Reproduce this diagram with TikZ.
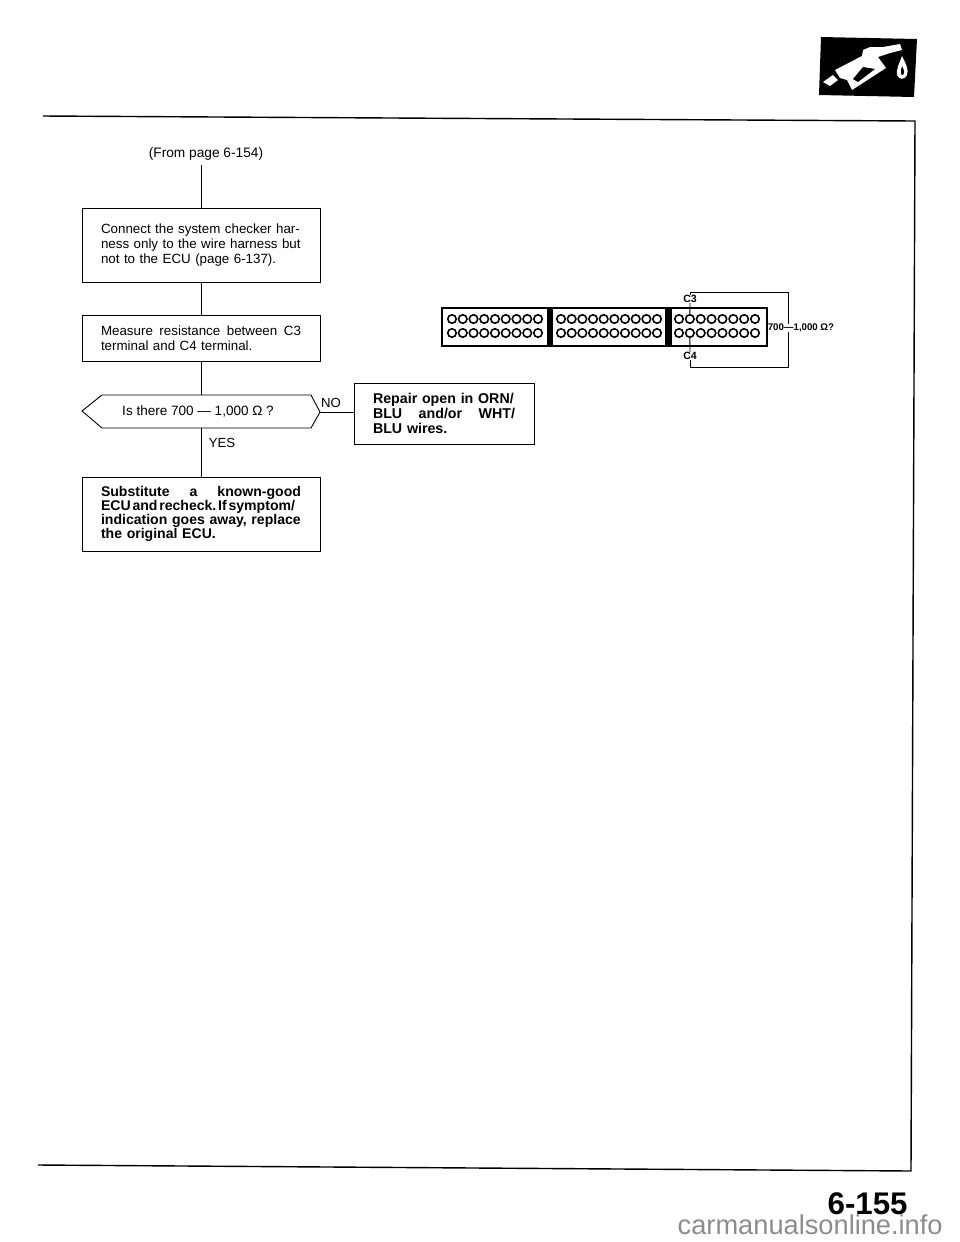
\documentclass[tikz,border=0pt]{standalone}
\usepackage{fontspec}
\setmainfont{Liberation Sans}
\usetikzlibrary{positioning}
\tikzset{
  stepbox/.style={draw, line width=0.5pt, inner sep=0pt, minimum width=4.76cm, align=left, text width=4.0cm, font=\fontsize{7.6}{8.5}\selectfont},
  fixbox/.style={draw, line width=0.5pt, inner sep=0pt, minimum width=3.6cm, minimum height=1.22cm, align=left, text width=2.84cm, font=\fontsize{8.1}{8.4}\selectfont\bfseries},
  pin/.style={circle, draw, line width=0.9pt, inner sep=0pt, minimum size=0.17cm},
  wire/.style={line width=0.5pt},
  tag/.style={inner sep=0pt, font=\fontsize{7.5}{8}\selectfont},
}
\begin{document}
\begin{tikzpicture}[x=0.02cm, y=-0.02cm]
    \useasboundingbox (0, 0) rectangle (960, 1242);
    % frame of the page
    \draw[line width=0.8pt] (43, 116) -- (915, 121) -- (911, 1171) -- (38, 1165);
    % fuel pump badge
    \fill (821, 37) -- (917, 39) -- (914, 97) -- (819, 95) -- cycle;
    \fill[white] (823, 82) -- (833, 75) -- (838, 80) -- (830, 86) -- cycle;
    \fill[white] (835, 70) -- (862, 56) -- (863, 50) -- (870, 47) -- (883, 47) -- (900, 44) -- (902, 50) -- (890, 53) -- (878, 57) -- (886, 68) -- (852, 90) -- (847, 80) -- (840, 78) -- cycle;
    \fill (853, 79) -- (863, 67) -- (875, 69) -- (858, 82) -- cycle;
    \fill[white] (902, 56) .. controls (906, 64) and (909, 70) .. (907, 75) .. controls (905, 80) and (899, 80) .. (897, 75) .. controls (896, 70) and (899, 64) .. (902, 56) -- cycle;
    \fill (902, 66) .. controls (904, 70) and (905, 72) .. (903, 75) .. controls (901, 76) and (900, 72) .. (902, 66) -- cycle;

    % flow chart
    \node[tag, font=\fontsize{7.8}{8}\selectfont] (from) at (206, 154) {(From page 6-154)};
    \node[stepbox, minimum height=1.48cm] (connect) at (201, 245) {Connect the system checker har-\\ness only to the wire harness but\\not to the ECU (page 6-137).};
    \node[stepbox, minimum height=0.92cm] (measure) at (201, 338) {Measure\hfill resistance\hfill between\hfill C3\\terminal and C4 terminal.};
    \draw[wire] (82, 411) -- (102, 395) -- (311, 395) -- (320, 412) -- (311, 428) -- (102, 428) -- cycle;
    \node[tag, font=\fontsize{7.7}{8}\selectfont] (ask) at (198, 411) {Is there 700 --- 1,000 Ω ?};
    \coordinate (asktop) at (201, 395);
    \coordinate (askbot) at (201, 428);
    \coordinate (askright) at (320, 412);
    \node[fixbox] (repair) at (444, 413.5) {Repair open in ORN/\\BLU\hfill and/or\hfill WHT/\\BLU wires.};
    \node[stepbox, minimum height=1.48cm, font=\fontsize{8}{8}\selectfont\bfseries] (sub) at (201, 514) {Substitute\hfill a\hfill known-good\\\mbox{\frenchspacing\spaceskip=.13em ECU and recheck. If symptom/}\\indication goes away, replace\\the original ECU.};
    \node[tag] (no) at (331, 403) {NO};
    \node[tag] (yes) at (222, 443) {YES};
    \coordinate (fromend) at (201, 165);
    \draw[wire] (fromend) -- (connect);
    \draw[wire] (connect) -- (measure);
    \draw[wire] (measure) -- (asktop);
    \draw[wire] (askbot) -- (sub);
    \draw[wire] (askright) -- (askright -| repair.west);

    % connector
    \draw[line width=1.2pt] (442, 308) rectangle (767, 346);
    \fill (547, 308) rectangle (553, 346);
    \fill (665, 308) rectangle (672, 346);
    \foreach \row/\ypos in {a/319, b/333} {
      \foreach \i in {0,...,8}
        \node[pin] (l\row\i) at (452 + \i*10.75, \ypos) {};
      \foreach \i in {0,...,9}
        \node[pin] (m\row\i) at (561 + \i*10.67, \ypos) {};
      \foreach \i in {0,...,7}
        \node[pin] (r\row\i) at (679 + \i*10.86, \ypos) {};
    }
    \node[tag, font=\fontsize{6}{7}\bfseries\selectfont] (c3) at (690, 299) {C3};
    \node[tag, font=\fontsize{6}{7}\bfseries\selectfont] (c4) at (690, 356) {C4};
    \node[tag, font=\fontsize{5.5}{7}\bfseries\selectfont] (ohm) at (801, 328) {700---1,000 Ω?};
    \coordinate (wiretop) at (788, 292);
    \coordinate (wirebot) at (788, 367);
    \draw[wire] (c3) -- (ra1);
    \draw[wire] (c4) -- (rb1);
    \draw[wire] (c3.north) |- (wiretop) -- (wiretop |- ohm.north);
    \draw[wire] (c4.south) |- (wirebot) -- (wirebot |- ohm.south);

    % page number
    \node[inner sep=0pt, anchor=base east, font=\fontsize{17.8}{18}\bfseries\selectfont] (page) at (908, 1214) {6-155};
    \node[inner sep=0pt, anchor=base east, text=black!45, font=\fontsize{15.5}{18}\selectfont] (mark) at (943, 1234) {carmanualsonline.info};
\end{tikzpicture}
\end{document}
